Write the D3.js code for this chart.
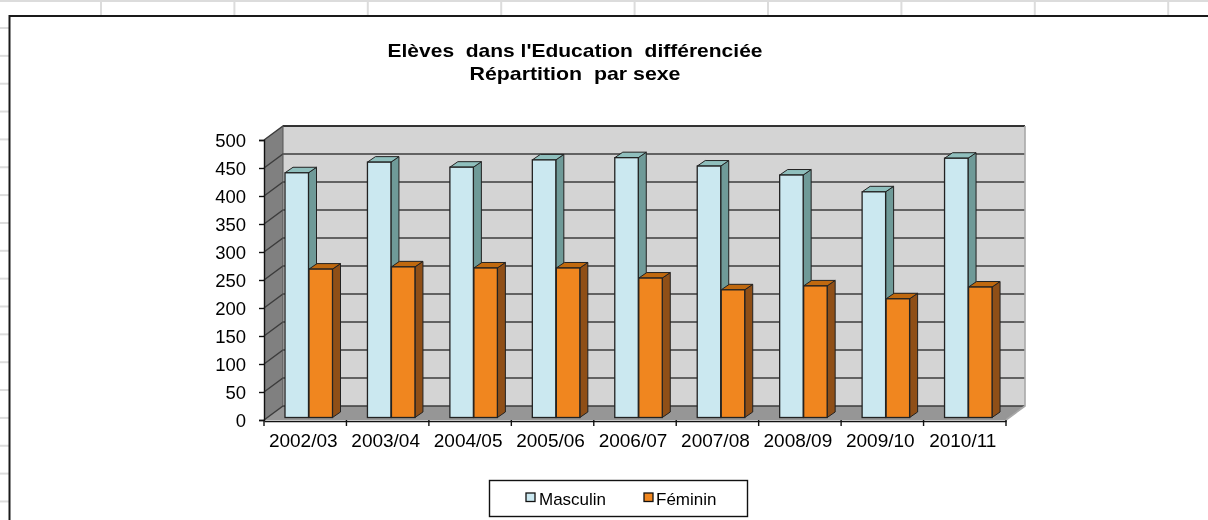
<!DOCTYPE html>
<html><head><meta charset="utf-8">
<script src="https://cdn.jsdelivr.net/npm/d3@7"></script>
<style>html,body{margin:0;padding:0;background:#fff;overflow:hidden}svg{display:block;filter:blur(0.4px)}text{font-family:"Liberation Sans",Arial,sans-serif;fill:#000}</style>
</head><body><svg id="c" width="1208" height="520"></svg>
<script>
const categories=["2002/03","2003/04","2004/05","2005/06","2006/07","2007/08","2008/09","2009/10","2010/11"];
const masculin=[437,456,447,460,464,449,433,403,463];
const feminin=[265,269,267,267,249,228,235,212,233];
const yTicks=[0,50,100,150,200,250,300,350,400,450,500];
const titleLines=["Elèves  dans l'Education  différenciée","Répartition  par sexe"];
const titleWidths=[375,211];
const legendItems=[["Masculin","#cbe8f0",526,539],["Féminin","#f0861f",644,656]];
const seriesStyles=[
 {values:masculin,face:"#cbe8f0",side:"#6f9a98",top:"#8fbfbd",off:21},
 {values:feminin,face:"#f0861f",side:"#8f4f17",top:"#c0690f",off:45}];

const svg=d3.select("#c");
const x=d3.scaleBand().domain(categories).range([264,1006]);
const y=d3.scaleLinear().domain([0,500]).range([420,140]);
const dx=19,dy=-14,barW=23.5,bdx=8,bdy=-5.5,barLift=2.5;
const x0=x.range()[0],x1=x.range()[1],rightBack=1025;
const poly=(pts,fill,stroke,sw)=>svg.append("polygon").attr("points",pts.map(p=>p.join(",")).join(" "))
  .attr("fill",fill).attr("stroke",stroke||"none").attr("stroke-width",sw||0).attr("stroke-linejoin","round");

// spreadsheet background
svg.append("rect").attr("x",0).attr("y",0).attr("width",1208).attr("height",2).attr("fill","#dcdcdc");
d3.range(100,1208,133.4).forEach(v=>svg.append("rect").attr("x",v).attr("y",0).attr("width",2).attr("height",16).attr("fill","#dcdcdc"));
d3.range(28,520,27.85).forEach(v=>svg.append("rect").attr("x",0).attr("y",v-1).attr("width",9).attr("height",2).attr("fill","#dcdcdc"));
// chart frame
svg.append("path").attr("d","M9.5,520V16H1208").attr("fill","none").attr("stroke","#1a1a1a").attr("stroke-width",2);

// walls
poly([[x0+dx,y(500)+dy],[rightBack,y(500)+dy],[rightBack,y(0)+dy],[x0+dx,y(0)+dy]],"#d4d4d4");
poly([[x0,y(500)],[x0+dx,y(500)+dy],[x0+dx,y(0)+dy],[x0,y(0)]],"#808080");
poly([[x0,y(0)],[x0+dx,y(0)+dy],[rightBack,y(0)+dy],[x1,y(0)]],"#969696");
// gridlines
yTicks.forEach(t=>{
  svg.append("path").attr("d",`M${x0},${y(t)}L${x0+dx},${y(t)+dy}H${rightBack}`).attr("fill","none").attr("stroke","#3c3c3c").attr("stroke-width",1.4);
});
svg.append("path").attr("d",`M${x0+dx},${y(500)+dy}H${rightBack}`).attr("stroke","#222").attr("stroke-width",1.5);
svg.append("path").attr("d",`M${rightBack},${y(500)+dy}V${y(0)+dy}L${x1},${y(0)}`).attr("fill","none").attr("stroke","#a8a8a8").attr("stroke-width",1.6);
svg.append("path").attr("d",`M${x0+dx},${y(500)+dy}V${y(0)+dy}`).attr("stroke","#555").attr("stroke-width",1);

// bars
seriesStyles.forEach(s=>{
  categories.forEach((c,i)=>{
    const L=x(c)+s.off,R=L+barW,B=y(0)-barLift,T=y(s.values[i])-barLift;
    poly([[R,T],[R+bdx,T+bdy],[R+bdx,B+bdy],[R,B]],s.side,"#222",1);
    poly([[L,T],[L+bdx,T+bdy],[R+bdx,T+bdy],[R,T]],s.top,"#222",1);
    svg.append("rect").attr("x",L).attr("y",T).attr("width",barW).attr("height",B-T)
      .attr("fill",s.face).attr("stroke","#222").attr("stroke-width",1.3);
  });
});

// axes
const ay=svg.append("g").attr("transform",`translate(${x0},0)`).call(d3.axisLeft(y).tickValues(yTicks).tickSize(5).tickPadding(13).tickFormat(d3.format("d")));
ay.selectAll("text").attr("font-size",18.5).style("font-family",'"Liberation Sans",Arial,sans-serif').attr("dy","0.36em");
ay.selectAll("line,path").attr("stroke","#111").attr("stroke-width",1.4);
const ax=svg.append("g").attr("transform",`translate(0,${y(0)+1})`).call(d3.axisBottom(x).tickSize(0).tickPadding(13));
ax.selectAll("text").attr("font-size",19).attr("dx",-2).style("font-family",'"Liberation Sans",Arial,sans-serif');
ax.selectAll("path").attr("stroke","#111").attr("stroke-width",1.4);
x.domain().concat(["end"]).forEach((c,i)=>{
  const px=x0+i*x.step();
  ax.append("line").attr("x1",px).attr("x2",px).attr("y1",-1).attr("y2",5).attr("stroke","#111").attr("stroke-width",1.4);
});

// title
titleLines.forEach((t,i)=>svg.append("text").attr("x",575).attr("y",57+i*23).attr("text-anchor","middle")
  .attr("font-size",18.5).attr("font-weight","bold").style("white-space","pre")
  .attr("textLength",titleWidths[i]).attr("lengthAdjust","spacingAndGlyphs").text(t));

// legend
svg.append("rect").attr("x",489.5).attr("y",480.5).attr("width",258).attr("height",36).attr("fill","#fff").attr("stroke","#111").attr("stroke-width",1.4);
legendItems.forEach(d=>{
  svg.append("rect").attr("x",d[2]).attr("y",493).attr("width",9).attr("height",8.5).attr("fill",d[1]).attr("stroke","#111").attr("stroke-width",1.3);
  svg.append("text").attr("x",d[3]).attr("y",505).attr("font-size",17).text(d[0]);
});
</script></body></html>
